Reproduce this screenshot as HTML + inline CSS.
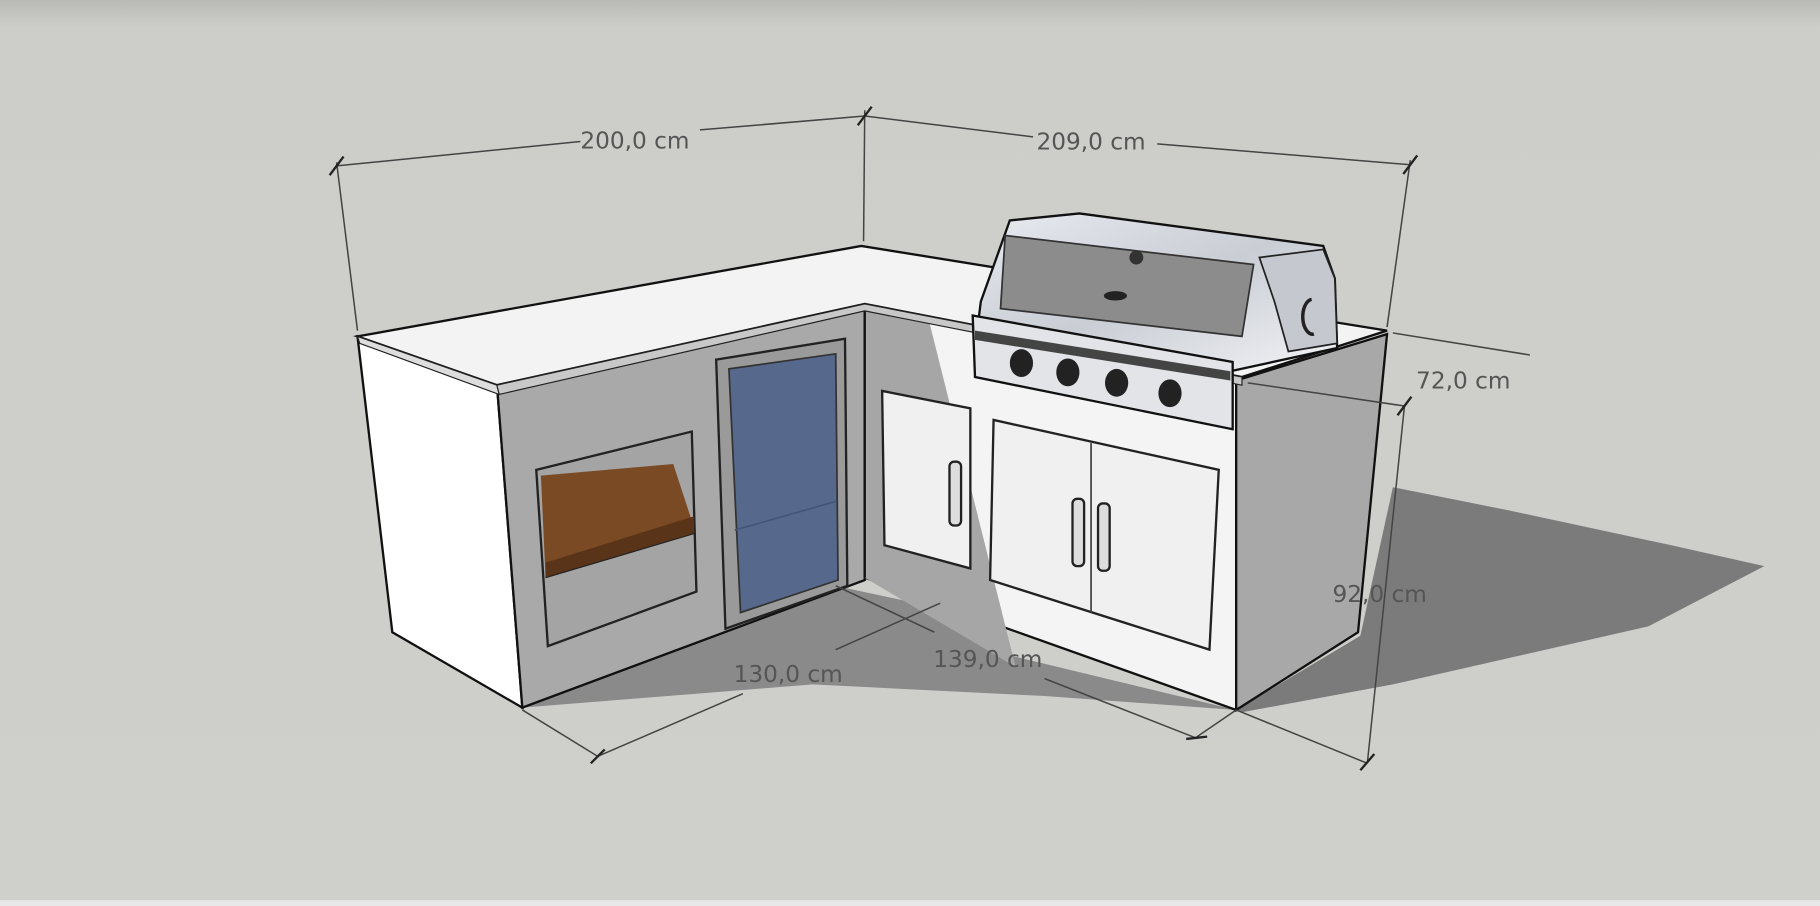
<!DOCTYPE html>
<html><head><meta charset="utf-8"><style>
html,body{margin:0;padding:0;background:#cececa;}
svg{display:block;}
text{font-family:"DejaVu Sans","Liberation Sans",sans-serif;font-size:20px;fill:#555;}
</style></head><body>
<svg width="1820" height="906" viewBox="0 0 1568 781" preserveAspectRatio="none" xmlns="http://www.w3.org/2000/svg">
<defs>
<linearGradient id="bg" x1="0" y1="0" x2="0" y2="1">
<stop offset="0" stop-color="#b9b9b5"/><stop offset="0.03" stop-color="#cdcdc9"/><stop offset="1" stop-color="#cfcfcb"/>
</linearGradient>
<linearGradient id="steel" x1="0" y1="0" x2="1" y2="1">
<stop offset="0" stop-color="#e8ebf0"/><stop offset="0.5" stop-color="#c9cdd4"/><stop offset="1" stop-color="#f2f3f6"/>
</linearGradient>
</defs>
<rect width="1568" height="781" fill="url(#bg)"/>
<rect y="776" width="1568" height="5" fill="#e8e8e8"/>
<!-- shadows -->
<polygon points="1065,612 1172,548 1200,420 1300,440 1440,470 1520,488 1420,540 1200,590 1070,614" fill="#7b7b7b"/>
<polygon points="450,610 720,505 790,520 870,565 1065,612 900,600 700,590" fill="#8a8a8a"/>
<!-- left end face -->
<polygon points="308,290 428,330 450,610 338,545" fill="#ffffff" stroke="#111" stroke-width="2"/>
<!-- left arm front -->
<polygon points="428,330 745,262 745,500 450,610" fill="#a9a9a9" stroke="#111" stroke-width="2"/>
<!-- shelf opening -->
<polygon points="462,405 596,372 600,510 472,557" fill="#a4a4a4" stroke="#222" stroke-width="2"/>
<polygon points="466,410 580,400 598,455 470,497" fill="#7a4a25"/>
<polygon points="470,485 598,445 598,460 470,498" fill="#5a3418"/>
<line x1="470" y1="498" x2="598" y2="460" stroke="#222" stroke-width="1"/>
<line x1="472" y1="557" x2="596" y2="372" stroke="none"/>
<!-- fridge -->
<polygon points="617,310 728,292 730,505 625,542" fill="#9a9a9a" stroke="#222" stroke-width="2"/>
<polygon points="628,318 720,305 722,500 638,528" fill="#56698c" stroke="#333" stroke-width="1.5"/>
<line x1="633" y1="457" x2="721" y2="432" stroke="#44557a" stroke-width="1.5"/>
<!-- right arm front -->
<polygon points="745,262 1065,328 1065,612 745,498" fill="#f4f4f4" stroke="#111" stroke-width="2"/>
<polygon points="745,262 800,275 875,575 745,498" fill="#a6a6a6"/>
<line x1="745" y1="262" x2="745" y2="498" stroke="#111" stroke-width="2"/>
<!-- right end face -->
<polygon points="1065,328 1195,288 1170,545 1065,612" fill="#a8a8a8" stroke="#111" stroke-width="2"/>
<!-- single door -->
<polygon points="760,337 836,352 836,490 762,470" fill="#f0f0f0" stroke="#222" stroke-width="2"/>
<rect x="818" y="398" width="10" height="55" rx="4" fill="#ddd" stroke="#222" stroke-width="2"/>
<!-- double door -->
<polygon points="856,362 1050,405 1042,560 853,500" fill="#f0f0f0" stroke="#222" stroke-width="2"/>
<line x1="940" y1="382" x2="940" y2="528" stroke="#444" stroke-width="1.5"/>
<rect x="924" y="430" width="10" height="58" rx="4" fill="#ddd" stroke="#222" stroke-width="2"/>
<rect x="946" y="434" width="10" height="58" rx="4" fill="#ddd" stroke="#222" stroke-width="2"/>
<!-- countertop -->
<polygon points="308,290 742,212 1195,285 1070,325 745,262 428,332" fill="#f3f3f3" stroke="#111" stroke-width="2"/>
<polygon points="428,332 745,262 1070,325 1070,332 745,268 430,340" fill="#c8c8c8" stroke="#222" stroke-width="1"/>
<polygon points="308,290 428,332 430,340 310,296" fill="#ddd" stroke="#222" stroke-width="1"/>
<!-- grill -->
<polygon points="870,190 930,184 1140,212 1150,240 1152,300 1060,320 840,300 845,260" fill="url(#steel)" stroke="#111" stroke-width="2"/>
<polygon points="866,203 1080,228 1070,290 862,266" fill="#8c8c8c" stroke="#333" stroke-width="1.5"/>
<polygon points="1085,222 1140,215 1150,240 1152,296 1110,303 1098,260" fill="#c5c8ce" stroke="#222" stroke-width="1.5"/>
<path d="M1130,258 a8,14 0 1 0 2,30" fill="none" stroke="#222" stroke-width="3"/>
<circle cx="979" cy="222" r="6" fill="#333"/>
<ellipse cx="961" cy="255" rx="10" ry="4" fill="#222"/>
<polygon points="838,272 1062,312 1062,370 840,325" fill="#e2e4e8" stroke="#111" stroke-width="2"/>
<polygon points="840,285 1060,320 1060,328 840,293" fill="#444"/>
<ellipse cx="880" cy="313" rx="10" ry="12" fill="#222"/><ellipse cx="920" cy="321" rx="10" ry="12" fill="#222"/>
<ellipse cx="962" cy="330" rx="10" ry="12" fill="#222"/><ellipse cx="1008" cy="339" rx="10" ry="12" fill="#222"/>
<!-- dimension lines -->
<g stroke="#444" stroke-width="1.3" fill="none">
<line x1="290" y1="143" x2="500" y2="122"/><line x1="603" y1="112" x2="745" y2="100"/>
<line x1="745" y1="100" x2="890" y2="118"/><line x1="997" y1="124" x2="1215" y2="142"/>
<line x1="290" y1="140" x2="308" y2="285"/><line x1="745" y1="95" x2="744" y2="208"/>
<line x1="1215" y1="138" x2="1195" y2="282"/>
<line x1="1200" y1="287" x2="1318" y2="306"/>
<line x1="1075" y1="330" x2="1210" y2="350"/>
<line x1="1210" y1="350" x2="1178" y2="658"/>
<line x1="1065" y1="612" x2="1178" y2="658"/>
<line x1="450" y1="612" x2="515" y2="652"/><line x1="515" y1="652" x2="640" y2="598"/>
<line x1="720" y1="560" x2="810" y2="520"/><line x1="720" y1="505" x2="805" y2="545"/>
<line x1="900" y1="585" x2="1030" y2="636"/><line x1="1030" y1="636" x2="1065" y2="612"/>
<g stroke="#222" stroke-width="2">
<line x1="284" y1="151" x2="296" y2="135"/><line x1="739" y1="108" x2="751" y2="92"/>
<line x1="1209" y1="150" x2="1221" y2="134"/><line x1="1204" y1="358" x2="1216" y2="342"/>
<line x1="1172" y1="664" x2="1184" y2="650"/><line x1="509" y1="658" x2="521" y2="646"/>
<line x1="1022" y1="637" x2="1040" y2="635"/>
</g>
</g>
<text x="500" y="128">200,0 cm</text>
<text x="893" y="129">209,0 cm</text>
<text x="1220" y="335">72,0 cm</text>
<text x="1148" y="519">92,0 cm</text>
<text x="632" y="588">130,0 cm</text>
<text x="804" y="575">139,0 cm</text>
</svg>
</body></html>
